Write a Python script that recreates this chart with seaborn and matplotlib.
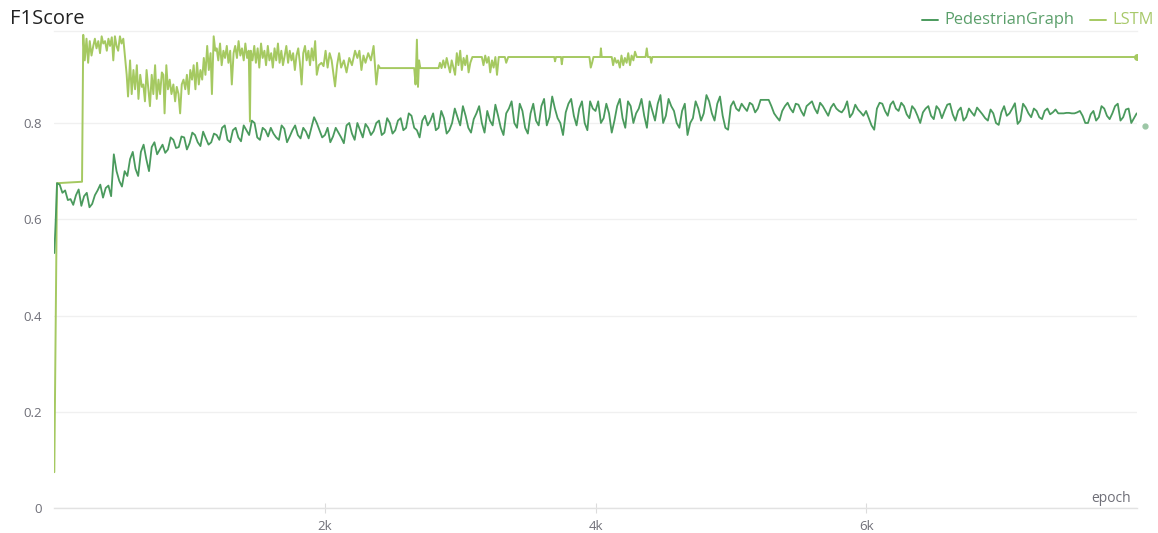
import numpy as np
import matplotlib
matplotlib.use("Agg")
import matplotlib.pyplot as plt
import seaborn as sns
from matplotlib.lines import Line2D

# ---------------------------------------------------------------
# F1 score per epoch, read off the W&B panel
# ---------------------------------------------------------------
pg_epoch = [0, 10] + list(range(20, 8001, 20))
pg_f1 = [
    0.530, 0.595,
    # 20 - 400
    0.675, 0.672, 0.655, 0.660, 0.640, 0.642, 0.630, 0.650, 0.662, 0.628,
    0.648, 0.655, 0.625, 0.632, 0.650, 0.660, 0.672, 0.645, 0.665, 0.670,
    # 420 - 800
    0.648, 0.735, 0.700, 0.680, 0.668, 0.700, 0.690, 0.725, 0.740, 0.705,
    0.690, 0.740, 0.755, 0.725, 0.700, 0.750, 0.760, 0.735, 0.745, 0.755,
    # 820 - 1200
    0.738, 0.745, 0.770, 0.765, 0.748, 0.750, 0.772, 0.770, 0.745, 0.758,
    0.780, 0.775, 0.760, 0.752, 0.782, 0.768, 0.755, 0.760, 0.778, 0.775,
    # 1220 - 1600
    0.765, 0.790, 0.795, 0.765, 0.760, 0.785, 0.790, 0.770, 0.762, 0.795,
    0.785, 0.775, 0.805, 0.800, 0.770, 0.765, 0.790, 0.785, 0.772, 0.790,
    # 1620 - 2000
    0.778, 0.770, 0.765, 0.795, 0.788, 0.760, 0.772, 0.785, 0.795, 0.775,
    0.768, 0.790, 0.782, 0.768, 0.790, 0.812, 0.800, 0.785, 0.770, 0.775,
    # 2020 - 2400
    0.790, 0.760, 0.772, 0.790, 0.780, 0.770, 0.758, 0.795, 0.800, 0.778,
    0.765, 0.800, 0.785, 0.770, 0.798, 0.790, 0.775, 0.783, 0.800, 0.805,
    # 2420 - 2800
    0.775, 0.780, 0.810, 0.800, 0.778, 0.785, 0.805, 0.810, 0.785, 0.790,
    0.820, 0.815, 0.790, 0.785, 0.770, 0.805, 0.815, 0.795, 0.805, 0.820,
    # 2820 - 3200
    0.785, 0.790, 0.825, 0.810, 0.778, 0.785, 0.800, 0.830, 0.812, 0.795,
    0.835, 0.815, 0.790, 0.780, 0.808, 0.820, 0.835, 0.800, 0.780, 0.825,
    # 3220 - 3600
    0.805, 0.795, 0.838, 0.815, 0.790, 0.775, 0.820, 0.830, 0.845, 0.800,
    0.790, 0.840, 0.825, 0.790, 0.778, 0.820, 0.840, 0.805, 0.795, 0.835,
    # 3620 - 4000
    0.850, 0.795, 0.812, 0.855, 0.830, 0.810, 0.800, 0.775, 0.822, 0.840,
    0.850, 0.815, 0.795, 0.830, 0.845, 0.800, 0.785, 0.845, 0.830, 0.825,
    # 4020 - 4400
    0.845, 0.800, 0.810, 0.840, 0.820, 0.780, 0.805, 0.835, 0.850, 0.810,
    0.790, 0.845, 0.835, 0.800, 0.820, 0.830, 0.850, 0.815, 0.790, 0.845,
    # 4420 - 4800
    0.825, 0.805, 0.840, 0.858, 0.800, 0.815, 0.850, 0.835, 0.825, 0.800,
    0.790, 0.825, 0.840, 0.775, 0.800, 0.810, 0.845, 0.830, 0.805, 0.820,
    # 4820 - 5200
    0.858, 0.845, 0.820, 0.805, 0.840, 0.855, 0.815, 0.790, 0.786, 0.835,
    0.845, 0.830, 0.825, 0.840, 0.832, 0.825, 0.842, 0.838, 0.822, 0.830,
    # 5220 - 5600
    0.848, 0.848, 0.848, 0.848, 0.835, 0.820, 0.812, 0.805, 0.825, 0.835,
    0.842, 0.830, 0.822, 0.840, 0.838, 0.825, 0.815, 0.835, 0.840, 0.845,
    # 5620 - 6000
    0.830, 0.820, 0.842, 0.835, 0.825, 0.815, 0.832, 0.840, 0.830, 0.825,
    0.822, 0.830, 0.845, 0.812, 0.820, 0.838, 0.828, 0.822, 0.815, 0.825,
    # 6020 - 6400
    0.810, 0.795, 0.786, 0.830, 0.842, 0.840, 0.825, 0.815, 0.838, 0.845,
    0.830, 0.825, 0.842, 0.835, 0.818, 0.810, 0.835, 0.828, 0.815, 0.800,
    # 6420 - 6800
    0.822, 0.830, 0.835, 0.815, 0.808, 0.835, 0.828, 0.810, 0.825, 0.838,
    0.840, 0.818, 0.805, 0.825, 0.832, 0.805, 0.812, 0.830, 0.822, 0.815,
    # 6820 - 7200
    0.832, 0.825, 0.818, 0.810, 0.805, 0.828, 0.820, 0.800, 0.796, 0.822,
    0.835, 0.815, 0.820, 0.830, 0.841, 0.798, 0.805, 0.840, 0.832, 0.820,
    # 7220 - 7600
    0.812, 0.830, 0.825, 0.812, 0.808, 0.825, 0.830, 0.818, 0.822, 0.828,
    0.820, 0.820, 0.820, 0.821, 0.821, 0.820, 0.820, 0.822, 0.825, 0.815,
    # 7620 - 8000
    0.800, 0.800, 0.818, 0.825, 0.805, 0.812, 0.835, 0.830, 0.815, 0.808,
    0.820, 0.835, 0.840, 0.805, 0.812, 0.828, 0.830, 0.800, 0.810, 0.820,
]

lstm_epoch = [
    0, 20, 205, 214, 225, 238, 250, 262, 275, 288, 300, 312, 325, 338, 350, 362,
    375, 388, 400, 412, 425, 436, 448, 460, 472, 485, 497, 510, 522, 535, 545,
    560, 572, 585, 597, 610, 622, 635, 647, 658, 670, 682, 695, 707, 720, 732,
    745, 757, 770, 782, 795, 806, 815, 828, 840, 853, 866, 880, 893, 905, 918,
    930, 942, 955, 968, 980, 993, 1005, 1018, 1030, 1043, 1055, 1068, 1080,
    1093, 1105, 1117, 1130, 1142, 1155, 1165, 1178, 1190, 1200, 1212, 1225,
    1237, 1250, 1262, 1275, 1287, 1300, 1312, 1325, 1337, 1350, 1362, 1375,
    1387, 1400, 1412, 1425, 1437, 1446, 1452, 1465, 1478, 1490, 1503, 1515,
    1528, 1540, 1553, 1565, 1578, 1590, 1603, 1615, 1628, 1640, 1653, 1665,
    1678, 1690, 1703, 1715, 1728, 1740, 1753, 1765, 1778, 1790, 1803, 1815,
    1828, 1840, 1853, 1865, 1878, 1890, 1903, 1915, 1928, 1940, 1955, 1975,
    1990, 2005, 2020, 2035, 2050, 2075, 2090, 2105, 2120, 2140, 2160, 2180,
    2200, 2223, 2240, 2255, 2270, 2285, 2300, 2320, 2340, 2360, 2380, 2395,
    2407, 2660, 2670, 2680, 2688, 2696, 2705, 2840, 2850, 2862, 2875, 2888,
    2900, 2912, 2925, 2937, 2950, 2962, 2975, 2987, 3000, 3012, 3025, 3037,
    3050, 3062, 3075, 3090, 3160, 3172, 3185, 3197, 3210, 3222, 3235, 3247,
    3260, 3272, 3285, 3330, 3340, 3355, 3695, 3701, 3708, 3745, 3751, 3758,
    3955, 3965, 3975, 3985, 4035, 4040, 4046, 4120, 4130, 4142, 4155, 4167,
    4180, 4192, 4205, 4217, 4230, 4242, 4255, 4267, 4280, 4292, 4305, 4370,
    4379, 4387, 4405, 4412, 4420, 8000,
]
lstm_f1 = [
    0.075, 0.675, 0.678, 0.983, 0.930, 0.975, 0.925, 0.970, 0.940, 0.960, 0.975,
    0.955, 0.970, 0.945, 0.980, 0.965, 0.970, 0.950, 0.975, 0.960, 0.978, 0.930,
    0.980, 0.960, 0.950, 0.980, 0.965, 0.975, 0.940, 0.900, 0.855, 0.930, 0.860,
    0.910, 0.870, 0.920, 0.850, 0.900, 0.875, 0.880, 0.845, 0.910, 0.870, 0.835,
    0.900, 0.860, 0.920, 0.850, 0.890, 0.860, 0.905, 0.900, 0.820, 0.920, 0.870,
    0.890, 0.860, 0.880, 0.845, 0.875, 0.860, 0.820, 0.880, 0.890, 0.870, 0.900,
    0.860, 0.910, 0.890, 0.920, 0.870, 0.925, 0.880, 0.910, 0.890, 0.935, 0.900,
    0.960, 0.910, 0.945, 0.860, 0.980, 0.950, 0.955, 0.930, 0.965, 0.920, 0.950,
    0.935, 0.960, 0.925, 0.950, 0.880, 0.945, 0.960, 0.935, 0.970, 0.940, 0.955,
    0.930, 0.965, 0.935, 0.950, 0.803, 0.950, 0.930, 0.960, 0.925, 0.955, 0.915,
    0.965, 0.935, 0.950, 0.920, 0.960, 0.930, 0.945, 0.915, 0.955, 0.930, 0.965,
    0.925, 0.950, 0.920, 0.940, 0.960, 0.925, 0.950, 0.930, 0.945, 0.910, 0.940,
    0.955, 0.925, 0.880, 0.945, 0.960, 0.930, 0.950, 0.920, 0.955, 0.930, 0.970,
    0.900, 0.920, 0.925, 0.918, 0.950, 0.915, 0.945, 0.930, 0.876, 0.920, 0.945,
    0.915, 0.930, 0.905, 0.935, 0.920, 0.950, 0.935, 0.950, 0.910, 0.940, 0.925,
    0.945, 0.930, 0.960, 0.880, 0.920, 0.914, 0.914, 0.880, 0.973, 0.875, 0.930,
    0.914, 0.914, 0.925, 0.914, 0.930, 0.915, 0.935, 0.920, 0.905, 0.930, 0.915,
    0.900, 0.945, 0.920, 0.950, 0.910, 0.935, 0.920, 0.940, 0.905, 0.925, 0.937,
    0.937, 0.920, 0.940, 0.925, 0.937, 0.905, 0.930, 0.915, 0.937, 0.900, 0.937,
    0.937, 0.925, 0.937, 0.937, 0.928, 0.937, 0.937, 0.922, 0.937, 0.937, 0.915,
    0.925, 0.937, 0.937, 0.955, 0.937, 0.937, 0.920, 0.935, 0.925, 0.930, 0.915,
    0.940, 0.920, 0.935, 0.925, 0.945, 0.920, 0.940, 0.930, 0.948, 0.937, 0.937,
    0.955, 0.937, 0.937, 0.925, 0.937, 0.937,
]

series_names = ["PedestrianGraph", "LSTM"]
y_ticks = [0, 0.2, 0.4, 0.6, 0.8]
y_tick_labels = ["0", "0.2", "0.4", "0.6", "0.8"]
x_ticks = [2000, 4000, 6000]
x_tick_labels = ["2k", "4k", "6k"]

PG_COLOR = "#4a9a5d"
LSTM_COLOR = "#a5c961"
TEXT_GRAY = "#6f6f78"

sns.set_theme(style="white")
plt.rcParams["font.family"] = ["Open Sans", "DejaVu Sans"]

W, H = 1158, 533
fig = plt.figure(figsize=(W / 100, H / 100), dpi=100)
ax = fig.add_axes([54.3 / W, 1 - 508.3 / H, (1136.7 - 54.3) / W, (508.3 - 31) / H])

sns.lineplot(x=lstm_epoch, y=lstm_f1, ax=ax, color=LSTM_COLOR, linewidth=1.4,
             estimator=None, sort=False, zorder=3)
sns.lineplot(x=pg_epoch, y=pg_f1, ax=ax, color=PG_COLOR, linewidth=1.3,
             estimator=None, sort=False, zorder=4)

# end-of-run markers
ax.plot(lstm_epoch[-1], lstm_f1[-1], "o", ms=4, color=LSTM_COLOR, zorder=5)
ax.plot(8060, 0.794, "o", ms=3.5, color="#9cc7a6", clip_on=False, zorder=5)

ax.set_xlim(0, 8000)
ax.set_ylim(0, 0.991)
ax.set_yticks(y_ticks)
ax.set_yticklabels(y_tick_labels)
ax.set_xticks(x_ticks)
ax.set_xticklabels(x_tick_labels)
ax.set_xlabel("")
ax.set_ylabel("")

ax.yaxis.grid(True, color="#f0f0f0", linewidth=1)
ax.xaxis.grid(False)
ax.set_axisbelow(True)
for side in ["left", "right"]:
    ax.spines[side].set_visible(False)
ax.spines["top"].set_color("#f0f0f0")
ax.spines["top"].set_linewidth(1)
ax.spines["bottom"].set_color("#e2e2e2")
ax.spines["bottom"].set_linewidth(1)

ax.tick_params(axis="y", length=0, pad=9, labelsize=9.5, labelcolor=TEXT_GRAY)
ax.tick_params(axis="x", direction="inout", length=6.5, width=0.8, color="#dcdcdc",
               pad=5, labelsize=9.5, labelcolor=TEXT_GRAY, bottom=True)

# title, axis name, legend
fig.text(10 / W, 1 - 19 / H, "F1Score", ha="left", va="center", fontsize=14.5, color="#222222")
fig.text(1131 / W, 1 - 499 / H, "epoch", ha="right", va="center", fontsize=10, color=TEXT_GRAY)

fig.add_artist(Line2D([922 / W, 938 / W], [1 - 20 / H, 1 - 20 / H], color=PG_COLOR, lw=1.4))
fig.text(944 / W, 1 - 20 / H, series_names[0], ha="left", va="center", fontsize=11.8, color="#5a9f6a")
fig.add_artist(Line2D([1090 / W, 1106 / W], [1 - 20 / H, 1 - 20 / H], color=LSTM_COLOR, lw=1.4))
fig.text(1112 / W, 1 - 20 / H, series_names[1], ha="left", va="center", fontsize=11.8, color="#a8c96a")

fig.savefig("out.png", dpi=100)
